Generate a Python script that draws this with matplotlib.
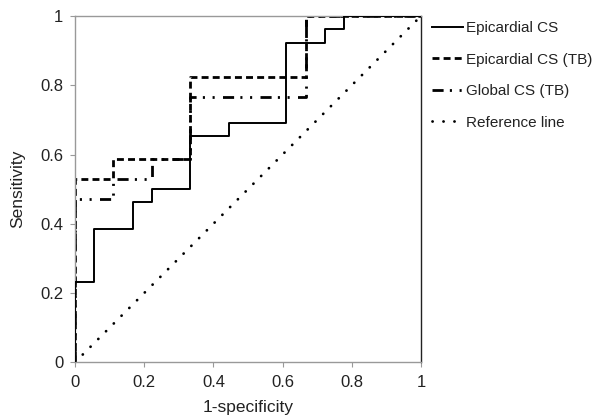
import matplotlib
matplotlib.use("Agg")
import matplotlib.pyplot as plt

plt.rcParams['font.family'] = ['Liberation Sans', 'DejaVu Sans']
plt.rcParams['lines.scale_dashes'] = False

# ROC step curves (1-specificity, sensitivity)
epi_x = [0, 0, 0.056, 0.056, 0.167, 0.167, 0.222, 0.222, 0.333, 0.333, 0.444, 0.444,
         0.611, 0.611, 0.722, 0.722, 0.778, 0.778, 1.0]
epi_y = [0, 0.231, 0.231, 0.385, 0.385, 0.462, 0.462, 0.5, 0.5, 0.654, 0.654, 0.692,
         0.692, 0.923, 0.923, 0.962, 0.962, 1.0, 1.0]

epitb_x = [0, 0, 0.111, 0.111, 0.333, 0.333, 0.667, 0.667, 1.0]
epitb_y = [0, 0.529, 0.529, 0.588, 0.588, 0.824, 0.824, 1.0, 1.0]

glob_x = [0, 0, 0.111, 0.111, 0.222, 0.222, 0.333, 0.333, 0.667, 0.667, 1.0]
glob_y = [0, 0.471, 0.471, 0.529, 0.529, 0.588, 0.588, 0.765, 0.765, 1.0, 1.0]

ref_x = [0, 1]
ref_y = [0, 1]

ticks = [0, 0.2, 0.4, 0.6, 0.8, 1]
tick_labels = ['0', '0.2', '0.4', '0.6', '0.8', '1']

fig = plt.figure(figsize=(5.96, 4.2), dpi=100)
ax = fig.add_axes([75/596, 1-362.3/420, 346/596, (362.3-16)/420])

ax.plot(ref_x, ref_y, color='black', lw=2.0, linestyle=(0, (0.1, 7.8)),
        dash_capstyle='round', label='Reference line', zorder=1)
ax.plot(epi_x, epi_y, color='black', lw=1.4, linestyle='-', label='Epicardial CS', zorder=3)
ax.plot(glob_x, glob_y, color='black', lw=2.0, linestyle=(0, (8, 4.5, 1.5, 5.5, 1.5, 6)),
        label='Global CS (TB)', zorder=2)
ax.plot(epitb_x, epitb_y, color='black', lw=2.0, linestyle=(0, (5, 3)),
        label='Epicardial CS (TB)', zorder=2)

ax.set_xlim(0, 1)
ax.set_ylim(0, 1)
ax.set_xticks(ticks)
ax.set_xticklabels(tick_labels)
ax.set_yticks(ticks)
ax.set_yticklabels(tick_labels)
ax.tick_params(axis='both', length=3.5, width=0.8, color='#999999', labelsize=12,
               labelcolor='#222222')
ax.tick_params(axis='x', pad=6)
ax.tick_params(axis='y', pad=5)
for s in ['left', 'top', 'bottom']:
    ax.spines[s].set_color('#999999')
    ax.spines[s].set_linewidth(1.0)
ax.spines['right'].set_color('#222222')
ax.spines['right'].set_linewidth(1.0)

ax.set_xlabel('1-specificity', fontsize=12.5, color='#222222', va='top')
ax.xaxis.set_label_coords(0.5, -(400 - 362.3) / 346.3)
ax.set_ylabel('Sensitivity', fontsize=12.5, color='#222222')
ax.yaxis.set_label_coords(-(75 - 25) / 346.0, 0.5)

handles, labels = ax.get_legend_handles_labels()
order = ['Epicardial CS', 'Epicardial CS (TB)', 'Global CS (TB)', 'Reference line']
hmap = dict(zip(labels, handles))
leg = fig.legend([hmap[k] for k in order], order, loc='upper left',
                 bbox_to_anchor=(426/596, 1-15/420), frameon=False, fontsize=11,
                 handlelength=2.05, handletextpad=0.2, labelspacing=1.15,
                 borderaxespad=0)
for t in leg.get_texts():
    t.set_color('#222222')

fig.savefig('out.png', dpi=100)
